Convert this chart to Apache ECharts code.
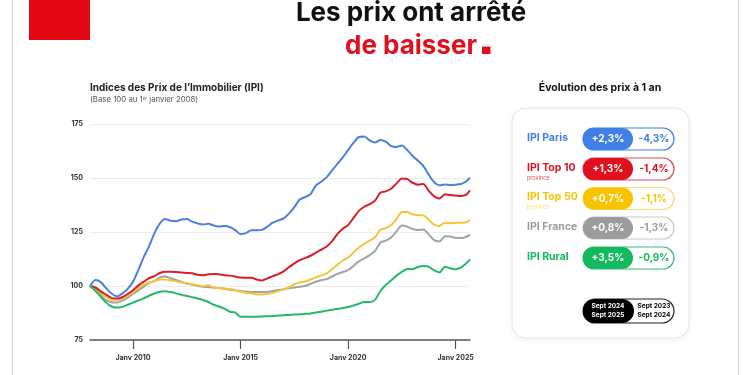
<!DOCTYPE html>
<html>
<head>
<meta charset="utf-8">
<script src="https://cdn.jsdelivr.net/npm/echarts@6/dist/echarts.min.js"></script>
<style>
  html, body { margin: 0; padding: 0; background: #fff; }
  #chart { width: 750px; height: 375px; }
</style>
</head>
<body>
<div id="chart"></div>
<script>
// trimestres, base 100 au 1er janvier 2008
const dates = [
  "2008-01","2008-04","2008-07","2008-10","2009-01","2009-04","2009-07","2009-10",
  "2010-01","2010-04","2010-07","2010-10","2011-01","2011-04","2011-07","2011-10",
  "2012-01","2012-04","2012-07","2012-10","2013-01","2013-04","2013-07","2013-10",
  "2014-01","2014-04","2014-07","2014-10","2015-01","2015-04","2015-07","2015-10",
  "2016-01","2016-04","2016-07","2016-10","2017-01","2017-04","2017-07","2017-10",
  "2018-01","2018-04","2018-07","2018-10","2019-01","2019-04","2019-07","2019-10",
  "2020-01","2020-04","2020-07","2020-10","2021-01","2021-04","2021-07","2021-10",
  "2022-01","2022-04","2022-07","2022-10","2023-01","2023-04","2023-07","2023-10",
  "2024-01","2024-04","2024-07","2024-10","2025-01","2025-04","2025-07","2025-09"
]

const ipiParis = [
  100, 102.8, 101.8, 99.0, 96.5, 95.2, 96.5, 98.7,
  102.0, 107.5, 113.5, 118.5, 124.5, 129.0, 131.0, 130.2,
  130.0, 130.8, 131.0, 129.8, 129.0, 128.5, 128.8, 128.0,
  127.6, 127.8, 127.3, 125.9, 124.0, 124.5, 125.8, 125.8,
  126.0, 127.5, 129.3, 130.3, 131.3, 133.5, 136.5, 140.0,
  141.2, 142.5, 146.5, 148.3, 150.3, 153.5, 156.5, 159.5,
  163.0, 166.3, 169.0, 169.2, 167.4, 166.4, 167.6, 166.8,
  164.8, 164.4, 165.1, 163.0, 160.2, 158.0, 155.5, 151.5,
  148.0, 146.6, 147.0, 146.7, 146.9, 147.2, 148.5, 150.1
]
const ipiTop10 = [
  100, 99.3, 97.5, 96.0, 94.5, 94.2, 94.8, 96.3,
  98.0, 100.3, 102.0, 103.6, 104.6, 106.0, 106.6, 106.6,
  106.5, 106.2, 106.0, 105.9, 105.2, 105.0, 105.4, 105.6,
  105.4, 105.0, 104.8, 104.4, 103.9, 103.8, 103.8, 103.0,
  102.6, 103.5, 104.6, 105.5, 106.8, 108.7, 110.5, 112.0,
  112.9, 114.0, 115.4, 116.8, 118.3, 120.7, 124.0, 126.5,
  128.2, 131.5, 134.8, 136.7, 137.9, 139.5, 143.2, 143.8,
  145.0, 147.5, 149.8, 149.5, 147.8, 146.9, 147.2, 144.0,
  141.5, 140.5, 142.5, 142.1, 141.9, 141.7, 142.3, 144.3
]
const ipiTop50 = [
  100, 98.7, 96.6, 95.0, 93.7, 93.6, 94.4, 95.5,
  97.2, 99.0, 100.6, 101.6, 102.3, 103.0, 103.0, 102.6,
  102.2, 101.6, 101.2, 100.8, 100.4, 100.0, 100.3, 99.3,
  99.0, 98.8, 98.6, 98.2, 97.3, 96.9, 96.5, 96.1,
  96.1, 96.3, 96.8, 97.7, 98.3, 99.5, 100.8, 101.6,
  102.1, 103.0, 104.0, 104.8, 105.8, 107.8, 109.8, 111.8,
  113.2, 115.5, 117.8, 119.5, 121.0, 122.6, 126.0, 126.8,
  128.2, 131.0, 134.3, 134.3, 133.2, 132.8, 132.7, 130.6,
  128.4, 127.8, 129.3, 129.1, 129.2, 129.3, 129.5, 130.6
]
const ipiFrance = [
  100, 98.2, 95.5, 93.5, 92.5, 92.4, 93.2, 94.6,
  96.3, 98.0, 99.7, 101.5, 102.3, 104.0, 104.4, 103.6,
  102.8, 101.9, 101.2, 100.6, 100.0, 99.7, 99.5, 99.3,
  99.0, 98.7, 98.3, 98.0, 97.7, 97.4, 97.2, 97.2,
  97.2, 97.3, 97.7, 98.1, 98.5, 99.0, 99.3, 99.6,
  100.0, 101.0, 102.0, 102.7, 103.2, 104.4, 105.6, 106.5,
  107.3, 109.3, 111.4, 112.8, 114.3, 116.2, 120.1, 121.0,
  122.5, 125.3, 128.0, 127.5, 126.4, 125.9, 126.2, 123.8,
  121.2, 120.6, 123.0, 122.9, 122.3, 122.2, 122.8, 123.8
]
const ipiRural = [
  100, 97.8, 95.0, 92.3, 90.5, 90.0, 90.3, 91.3,
  92.3, 93.3, 94.3, 95.5, 96.5, 97.3, 97.6, 97.2,
  96.6, 95.9, 95.4, 94.8, 94.2, 93.5, 92.6, 91.3,
  90.5, 89.5, 88.1, 87.7, 85.8, 85.8, 85.8, 85.8,
  85.9, 86.0, 86.1, 86.3, 86.5, 86.6, 86.8, 86.9,
  87.1, 87.3, 87.7, 88.1, 88.6, 89.0, 89.4, 89.8,
  90.3, 91.0, 91.8, 92.6, 92.6, 93.6, 97.7, 100.5,
  102.6, 104.8, 106.5, 107.9, 107.8, 108.8, 109.3, 108.9,
  107.2, 106.3, 108.9, 108.2, 107.7, 108.6, 110.5, 112.3
]

const yTicks = [75, 100, 125, 150, 175]
const xTickYears = [2010, 2015, 2020, 2025]

// évolution à 1 an
const seriesNames = ["IPI Paris", "IPI Top 10", "IPI Top 50", "IPI France", "IPI Rural"]
const seriesSub = ["", "province", "province", "", ""]
const evolSept2025 = ["+2,3%", "+1,3%", "+0,7%", "+0,8%", "+3,5%"]
const evolSept2024 = ["-4,3%", "-1,4%", "-1,1%", "-1,3%", "-0,9%"]
const colors = ["#4a80dc", "#d71f2b", "#f3c63a", "#a3a3a3", "#25b86a"]
const pillColors = ["#3f7fe6", "#e1101e", "#f8c400", "#9c9c9c", "#12b95e"]
const outlineColors = ["#3f7fe6", "#d94a52", "#f6dc72", "#c9c9c9", "#2fbf70"]

const FONT = "Inter, 'Noto Sans', sans-serif"

const toYear = (d) => {
  const [y, m] = d.split("-").map(Number)
  return y + (m - 1) / 12
}
const xs = dates.map(toYear)
const pairs = (vals) => vals.map((v, i) => [xs[i], v])

const chart = echarts.init(document.getElementById("chart"), null, { renderer: "canvas" })

// panneau de droite
const panel = []
const rowY = [139, 169, 198.5, 228, 258]
seriesNames.forEach((name, i) => {
  const cy = rowY[i]
  panel.push({
    type: "text", left: 527, top: cy - 7,
    style: { text: name, fill: pillColors[i], font: "bold 10.5px " + FONT }
  })
  if (seriesSub[i]) {
    panel.push({
      type: "text", left: 527, top: cy + 6,
      style: { text: seriesSub[i], fill: outlineColors[i], font: "5.5px " + FONT }
    })
  }
  panel.push({
    type: "rect", shape: { x: 583, y: cy - 11, width: 91, height: 22, r: 11 },
    style: { fill: "#fff", stroke: outlineColors[i], lineWidth: 1.2 }
  })
  panel.push({
    type: "rect", shape: { x: 583, y: cy - 11, width: 50, height: 22, r: 11 },
    style: { fill: pillColors[i] }
  })
  panel.push({
    type: "text", x: 608, y: cy,
    style: { text: evolSept2025[i], fill: "#fff", font: "bold 10px " + FONT, align: "center", verticalAlign: "middle" }
  })
  panel.push({
    type: "text", x: 654, y: cy,
    style: { text: evolSept2024[i], fill: pillColors[i], font: "bold 10px " + FONT, align: "center", verticalAlign: "middle" }
  })
})

const option = {
  backgroundColor: "#fff",
  animation: false,
  grid: { left: 90, right: 280, top: 124, bottom: 35, containLabel: false },
  xAxis: {
    type: "value",
    min: toYear("2008-01"),
    max: toYear("2025-09"),
    axisLine: { lineStyle: { color: "#555", width: 1.5 } },
    axisTick: { show: true, customValues: xTickYears, length: 9, lineStyle: { color: "#555", width: 1.2 } },
    axisLabel: {
      customValues: xTickYears,
      formatter: (v) => "Janv " + v,
      fontFamily: FONT, fontWeight: "bold", fontSize: 7, color: "#333", margin: 14
    },
    splitLine: { show: false }
  },
  yAxis: {
    type: "value",
    min: 75, max: 175, interval: 25,
    axisLine: { show: false },
    axisTick: { show: false },
    axisLabel: { fontFamily: FONT, fontWeight: "bold", fontSize: 7, color: "#333", margin: 7 },
    splitLine: {
      lineStyle: { color: "#ececec", width: 1 },
      showMinLine: false
    }
  },
  series: [
    { name: "IPI France", data: pairs(ipiFrance), color: colors[3] },
    { name: "IPI Top 50", data: pairs(ipiTop50), color: colors[2] },
    { name: "IPI Top 10", data: pairs(ipiTop10), color: colors[1] },
    { name: "IPI Rural", data: pairs(ipiRural), color: colors[4] },
    { name: "IPI Paris", data: pairs(ipiParis), color: colors[0] }
  ].map((s) => ({
    type: "line", name: s.name, data: s.data, smooth: 0.25, showSymbol: false,
    lineStyle: { width: 2, color: s.color }, itemStyle: { color: s.color }
  })),
  graphic: [
    // cadre
    { type: "line", shape: { x1: 12.5, y1: 0, x2: 12.5, y2: 375 }, style: { stroke: "#d0d0d0", lineWidth: 1 } },
    { type: "line", shape: { x1: 738.5, y1: 0, x2: 738.5, y2: 375 }, style: { stroke: "#d0d0d0", lineWidth: 1 } },
    { type: "rect", shape: { x: 29, y: 0, width: 61, height: 40 }, style: { fill: "#e30613" } },
    // titre
    { type: "text", x: 411, y: 0, style: { text: "Les prix ont arrêté", fill: "#111", font: "bold 26px " + FONT, align: "center", verticalAlign: "top" } },
    { type: "text", x: 411, y: 33, style: { text: "de baisser", fill: "#e0101e", font: "bold 26px " + FONT, align: "center", verticalAlign: "top" } },
    { type: "rect", shape: { x: 482, y: 46.5, width: 8.5, height: 7.5 }, style: { fill: "#e0101e" } },
    // titre du graphique
    { type: "text", left: 90, top: 83, style: { text: "Indices des Prix de l’Immobilier (IPI)", fill: "#222", font: "bold 10px " + FONT } },
    {
      type: "text", left: 90, top: 96,
      style: {
        text: "(Base 100 au 1{sup|er} janvier 2008)",
        fill: "#555", font: "7.8px " + FONT,
        rich: { sup: { fontSize: 4.5, verticalAlign: "top", fill: "#555", fontFamily: FONT, padding: [0, 0, 3, 0] } }
      }
    },
    // panneau
    { type: "text", x: 600, y: 88, style: { text: "Évolution des prix à 1 an", fill: "#111", font: "bold 10.5px " + FONT, align: "center", verticalAlign: "middle" } },
    {
      type: "rect", shape: { x: 512, y: 108, width: 177, height: 230, r: 14 },
      style: { fill: "#fff", stroke: "#e6e6e6", lineWidth: 1, shadowBlur: 6, shadowColor: "rgba(0,0,0,0.06)", shadowOffsetY: 2 },
      z: -1
    },
    ...panel,
    // légende des périodes
    { type: "rect", shape: { x: 583, y: 299, width: 91, height: 24, r: 12 }, style: { fill: "#fff", stroke: "#222", lineWidth: 1.2 } },
    { type: "rect", shape: { x: 583, y: 299, width: 51, height: 24, r: 12 }, style: { fill: "#000" } },
    { type: "text", x: 608, y: 311, style: { text: "Sept 2024\nSept 2025", fill: "#fff", font: "bold 6.5px " + FONT, align: "center", verticalAlign: "middle", lineHeight: 9 } },
    { type: "text", x: 654, y: 311, style: { text: "Sept 2023\nSept 2024", fill: "#000", font: "bold 6.5px " + FONT, align: "center", verticalAlign: "middle", lineHeight: 9 } }
  ]
}

chart.setOption(option)
window.addEventListener("resize", () => chart.resize())
</script>
</body>
</html>
